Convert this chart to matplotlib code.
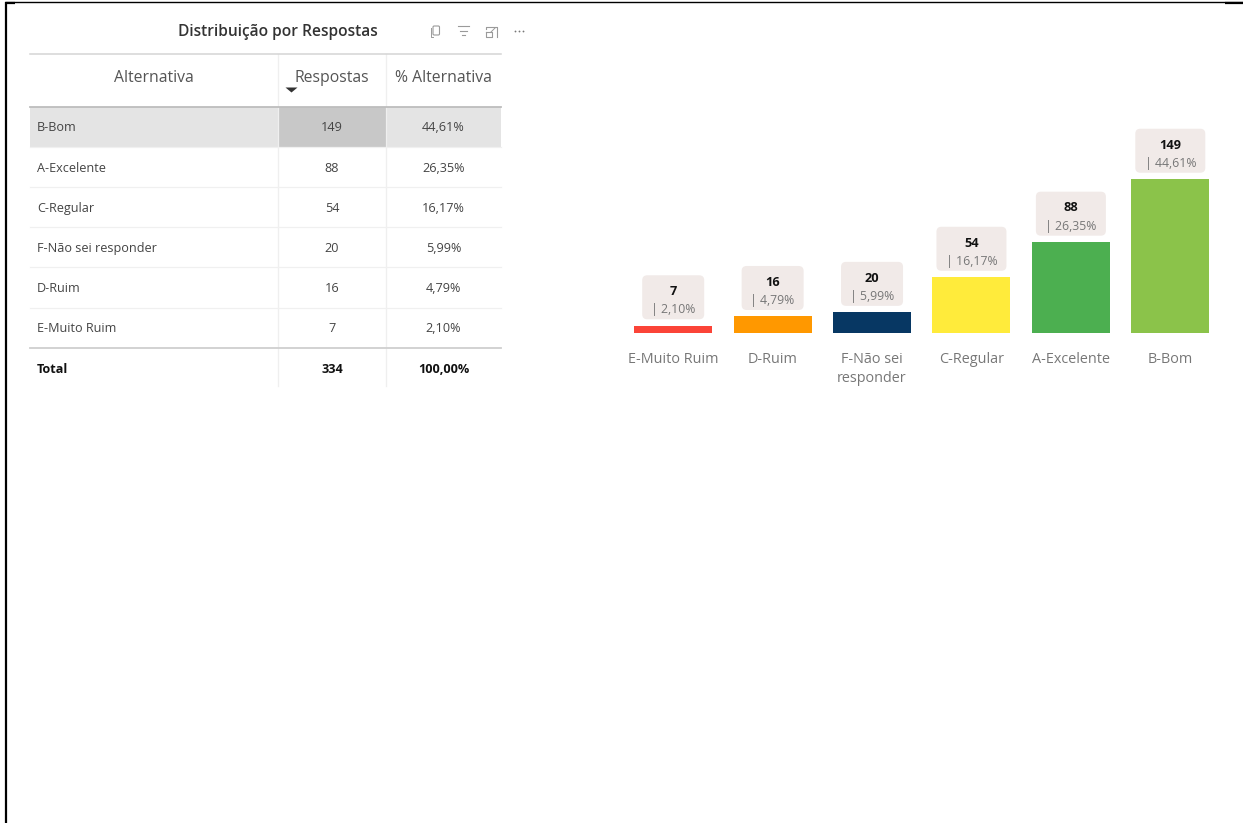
import matplotlib
matplotlib.use("Agg")
import matplotlib.pyplot as plt
from matplotlib.patches import FancyBboxPatch, Rectangle, Polygon

plt.rcParams['font.family'] = ['Open Sans', 'DejaVu Sans']

# ---------- data ----------
table_title = "Distribuição por Respostas"
table_headers = ["Alternativa", "Respostas", "% Alternativa"]
table_names = ["B-Bom", "A-Excelente", "C-Regular", "F-Não sei responder", "D-Ruim", "E-Muito Ruim"]
table_counts = [149, 88, 54, 20, 16, 7]
table_shares = ["44,61%", "26,35%", "16,17%", "5,99%", "4,79%", "2,10%"]
total_row = ["Total", "334", "100,00%"]

bar_labels = ["E-Muito Ruim", "D-Ruim", "F-Não sei\nresponder", "C-Regular", "A-Excelente", "B-Bom"]
bar_values = [7, 16, 20, 54, 88, 149]
bar_shares = ["2,10%", "4,79%", "5,99%", "16,17%", "26,35%", "44,61%"]
bar_colors = ["#FB4438", "#FF9800", "#073763", "#FFEB3B", "#4CAF50", "#8BC34A"]

W, H = 1243, 823
fig = plt.figure(figsize=(W / 100, H / 100), dpi=100, facecolor="white")

# pixel-space overlay for the table and page furniture
pg = fig.add_axes([0, 0, 1, 1], zorder=1)
pg.set_xlim(0, W)
pg.set_ylim(H, 0)
pg.axis("off")

# page frame
pg.plot([5.5, W], [2.2, 2.2], color="black", lw=1.0, solid_capstyle="butt")
pg.plot([5.7, 5.7], [2, H], color="black", lw=1.6, solid_capstyle="butt")
pg.plot([5, 15], [2.8, 2.8], color="black", lw=1.6, solid_capstyle="butt")
pg.plot([1225, W], [3, 3], color="black", lw=1.6, solid_capstyle="butt")

# ---------- table ----------
TX0, TX1, C1, C2 = 30, 501, 278, 386
HEAD_TOP, HEAD_BOT = 53.5, 106.5
ROW_H = 40.2
n = len(table_names)
rows_end = HEAD_BOT + ROW_H * n
TABLE_END = 386

pg.text(277.5, 32.3, table_title, ha="center", va="center", fontsize=11.2,
        fontweight=600, color="#333333")

# selected row
pg.add_patch(Rectangle((TX0, HEAD_BOT), TX1 - TX0, ROW_H, fc="#E4E4E4", ec="none", zorder=1))
pg.add_patch(Rectangle((C1, HEAD_BOT), C2 - C1, ROW_H, fc="#C8C8C8", ec="none", zorder=1))

for x in (C1, C2):
    pg.plot([x, x], [HEAD_TOP, TABLE_END], color="#EFEFEF", lw=0.9, zorder=1.5)
pg.plot([TX0, TX1], [HEAD_TOP, HEAD_TOP], color="#D4D4D4", lw=1.1, zorder=2)
pg.plot([TX0, TX1], [HEAD_BOT, HEAD_BOT], color="#BDBDBD", lw=1.3, zorder=2)
for k in range(1, n):
    y = HEAD_BOT + ROW_H * k
    pg.plot([TX0, TX1], [y, y], color="#F0F0F0", lw=0.9, zorder=2)
pg.plot([TX0, TX1], [rows_end, rows_end], color="#CFCFCF", lw=1.3, zorder=2)

head_y = 78
for x, s in zip((154, 332, 443.5), table_headers):
    pg.text(x, head_y, s, ha="center", va="center", fontsize=11.3, color="#555555", zorder=3)
pg.add_patch(Polygon([[285.5, 87.5], [297.5, 87.5], [291.5, 92.5]], fc="#333333", ec="none", zorder=3))

for k, (a, b, c) in enumerate(zip(table_names, table_counts, table_shares)):
    y = HEAD_BOT + ROW_H * (k + 0.5) + 1.3
    pg.text(37, y, a, ha="left", va="center", fontsize=9.1, color="#444444", zorder=3)
    pg.text(332, y, str(b), ha="center", va="center", fontsize=9.1, color="#444444", zorder=3)
    pg.text(443.5, y, c, ha="center", va="center", fontsize=9.1, color="#444444", zorder=3)

tot_y = rows_end + 21.3
for x, s, ha in zip((37, 332, 443.5), total_row, ("left", "center", "center")):
    pg.text(x, tot_y, s, ha=ha, va="center", fontsize=9.1, fontweight="bold", color="#111111", zorder=3)

# toolbar icons
ic = "#9A9A9A"
pg.add_patch(FancyBboxPatch((433, 26), 6.5, 9, boxstyle="round,pad=0,rounding_size=1.2", fc="none", ec=ic, lw=0.8))
pg.plot([431.5, 431.5, 433], [27.5, 36.5, 36.5], color=ic, lw=0.7)
for y, a, b in ((26, 458.5, 469.5), (30.5, 460.5, 467.5), (35, 462.5, 465.5)):
    pg.plot([a, b], [y, y], color=ic, lw=0.8)
pg.plot([486, 486, 497, 497], [29, 26.5, 26.5, 37], color=ic, lw=0.8)
pg.plot([486, 486, 492, 492, 486], [32, 37, 37, 32, 32], color=ic, lw=0.8)
pg.plot([491, 495], [32, 28], color=ic, lw=0.7)
for x in (515, 519, 523):
    pg.plot([x], [31], marker="o", ms=1.3, color="#777777", mew=0)

# ---------- bar chart ----------
AX_L, AX_R, AX_BASE, AX_TOP = 623.5, 1220, 333, 100
ax = fig.add_axes([AX_L / W, 1 - AX_BASE / H, (AX_R - AX_L) / W, (AX_BASE - AX_TOP) / H], zorder=0)
ax.set_xlim(-0.5, 5.5)
ax.set_ylim(0, (AX_BASE - AX_TOP) / 1.032)
ax.bar(range(len(bar_values)), bar_values, width=0.785, color=bar_colors)
ax.set_xticks(range(len(bar_labels)), bar_labels)
ax.tick_params(axis="x", length=0, pad=14, labelsize=10.4, labelcolor="#777777")
ax.set_yticks([])
for s in ax.spines.values():
    s.set_visible(False)
ax.patch.set_alpha(0)
for lab in ax.get_xticklabels():
    lab.set_linespacing(1.33)

fig.canvas.draw()
for i, (v, p) in enumerate(zip(bar_values, bar_shares)):
    xd, yd = ax.transData.transform((i, v))
    cx, top = xd, H - yd
    bw = 70 if len(p) == 6 else 62
    pg.add_patch(FancyBboxPatch((cx - bw / 2 + 3, top - 50.5 + 3), bw - 6, 44 - 6,
                                boxstyle="round,pad=3,rounding_size=5", fc="#F1EAE8", ec="none", zorder=2))
    pg.text(cx, top - 34.2, str(v), ha="center", va="center", fontsize=9.2, fontweight="bold", color="#111111", zorder=3)
    pg.text(cx, top - 15.8, "| " + p, ha="center", va="center", fontsize=8.8, color="#777777", zorder=3)

fig.savefig("out.png", dpi=100, facecolor="white")
